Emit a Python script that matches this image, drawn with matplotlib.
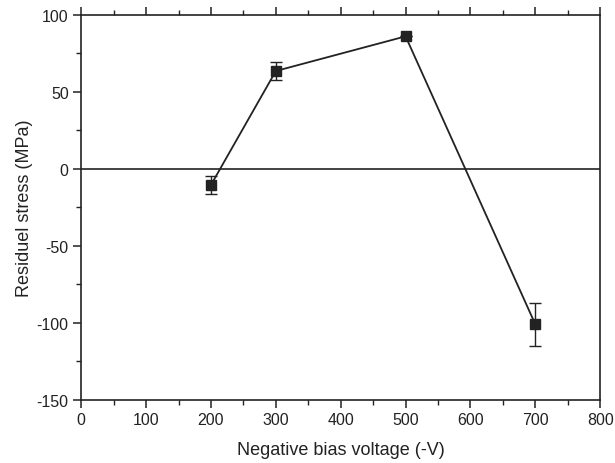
import matplotlib
matplotlib.use('Agg')
import matplotlib.pyplot as plt
from matplotlib.ticker import MultipleLocator

plt.rcParams['font.family'] = ['Liberation Sans', 'DejaVu Sans']
plt.rcParams['axes.unicode_minus'] = False

voltage = [200, 300, 500, 700]
stress = [-10.5, 63.5, 86, -101]
stress_err = [6, 6, 0, 14]

fig, ax = plt.subplots(figsize=(6.15, 4.64), dpi=100)
fig.subplots_adjust(left=0.132, right=0.976, bottom=0.136, top=0.966)

ax.errorbar(voltage, stress, yerr=stress_err, color='#222222', marker='s', ms=6.5,
            lw=1.3, elinewidth=1.0, capsize=4, capthick=1.0)
ax.axhline(0, color='#222222', lw=1.2)

ax.set_xlim(0, 800)
ax.set_ylim(-150, 100)
ax.xaxis.set_major_locator(MultipleLocator(100))
ax.xaxis.set_minor_locator(MultipleLocator(50))
ax.yaxis.set_major_locator(MultipleLocator(50))
ax.yaxis.set_minor_locator(MultipleLocator(25))

ax.tick_params(which='both', direction='out', top=True, right=False, labelsize=11.5,
               color='#222222', labelcolor='#222222')
ax.tick_params(which='major', length=6, width=1.1, pad=3)
ax.tick_params(which='minor', length=3.5, width=1.0)
for s in ax.spines.values():
    s.set_linewidth(1.2)
    s.set_color('#222222')

ax.set_xlabel('Negative bias voltage (-V)', fontsize=13, color='#222222', labelpad=10)
ax.set_ylabel('Residuel stress (MPa)', fontsize=13, color='#222222', labelpad=3)

fig.savefig('out.png', dpi=100)
